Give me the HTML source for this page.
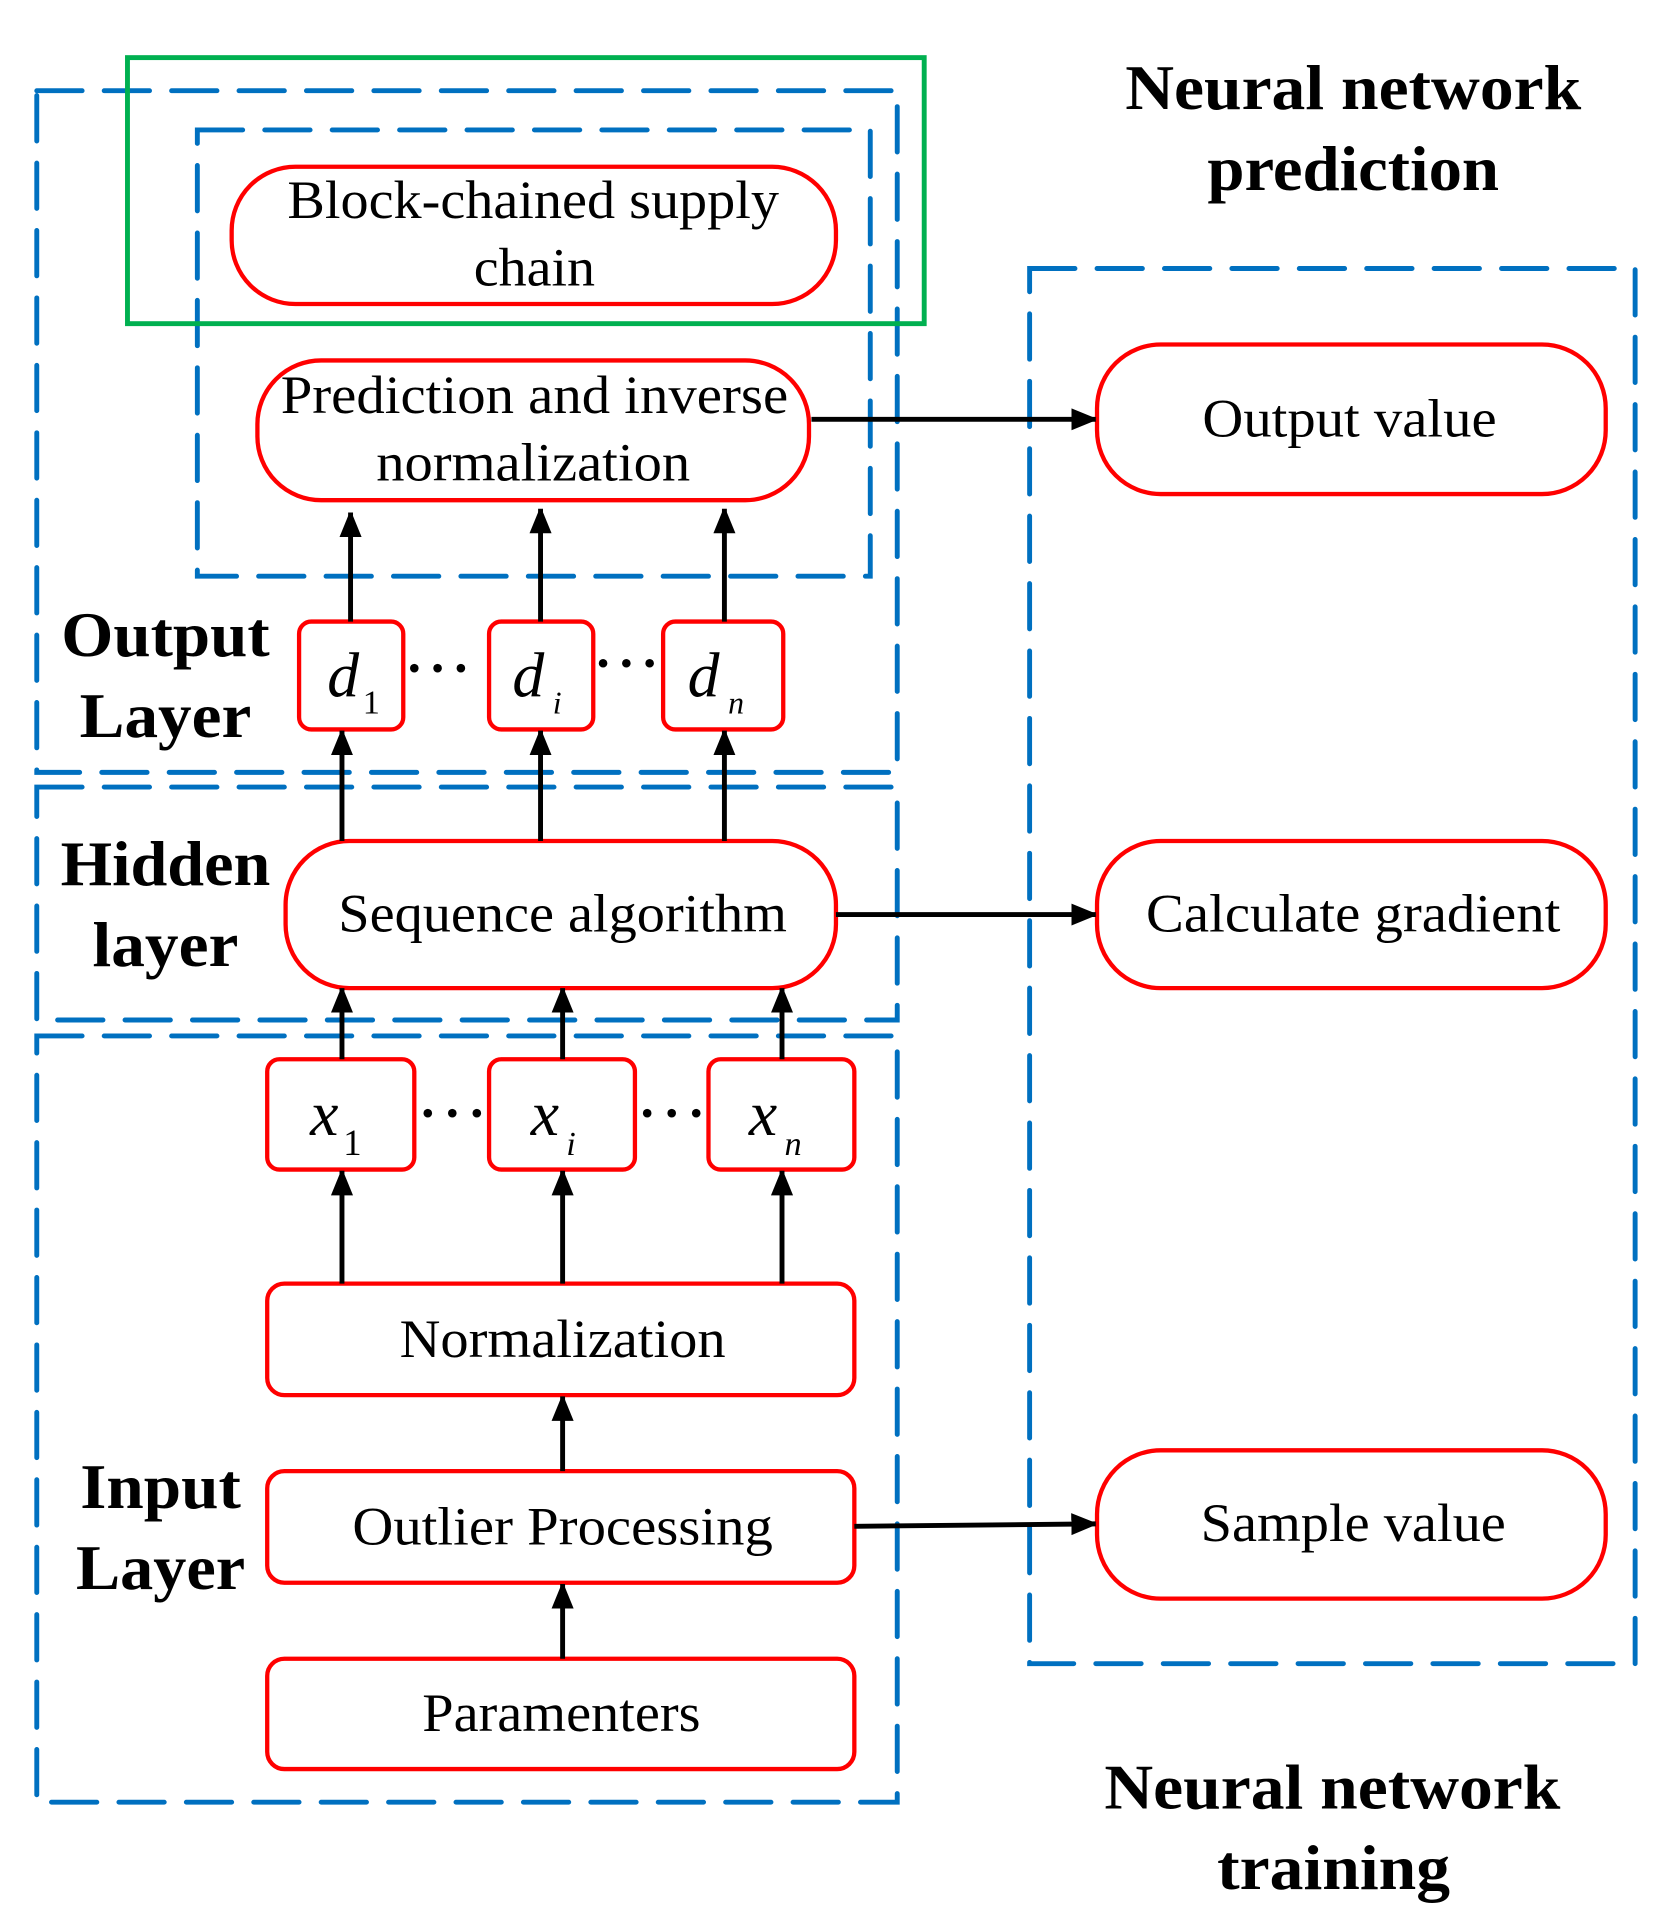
<!DOCTYPE html>
<html><head><style>html,body{margin:0;padding:0;background:#fff}svg{display:block}</style></head><body>
<svg width="1667" height="1926" viewBox="0 0 1360 1571" preserveAspectRatio="none" xmlns="http://www.w3.org/2000/svg">
<defs>
<marker id="b" markerWidth="18" markerHeight="22" refX="20" refY="9" orient="auto" markerUnits="userSpaceOnUse"><path d="M0,0 L22,9 L0,18 z" fill="#000"/></marker></defs>
<g fill="none" stroke="#0070C0" stroke-width="4" stroke-dasharray="37 18" stroke-linecap="round">
<rect x="30" y="74" width="702" height="556"/>
<rect x="30" y="642" width="702" height="190"/>
<rect x="30" y="845" width="702" height="625"/>
<rect x="161" y="106" width="549" height="364"/>
<rect x="840" y="219" width="494" height="1138"/>
</g>
<rect x="104" y="47" width="650" height="217" fill="none" stroke="#00B050" stroke-width="4"/>
<g fill="#fff" stroke="#f00" stroke-width="3.5">
<rect x="189" y="136" width="493" height="112" rx="52"/>
<rect x="210" y="294" width="450" height="114" rx="52"/>
<rect x="895" y="281" width="415" height="122" rx="52"/>
<rect x="244" y="507" width="85" height="88" rx="10"/>
<rect x="399" y="507" width="85" height="88" rx="10"/>
<rect x="541" y="507" width="98" height="88" rx="10"/>
<rect x="233" y="686" width="449" height="120" rx="52"/>
<rect x="895" y="686" width="415" height="120" rx="52"/>
<rect x="218" y="864" width="120" height="90" rx="10"/>
<rect x="399" y="864" width="119" height="90" rx="10"/>
<rect x="578" y="864" width="119" height="90" rx="10"/>
<rect x="218" y="1047" width="479" height="91" rx="14"/>
<rect x="218" y="1200" width="479" height="91" rx="14"/>
<rect x="218" y="1353" width="479" height="90" rx="14"/>
<rect x="895" y="1183" width="415" height="121" rx="52"/>
</g>
<g stroke="#000" stroke-width="4" marker-end="url(#b)">
<line x1="286" y1="507" x2="286" y2="418"/>
<line x1="441" y1="507" x2="441" y2="415"/>
<line x1="591" y1="507" x2="591" y2="415"/>
<line x1="279" y1="686" x2="279" y2="596"/>
<line x1="441" y1="686" x2="441" y2="596"/>
<line x1="591" y1="686" x2="591" y2="596"/>
<line x1="279" y1="864" x2="279" y2="806"/>
<line x1="459" y1="864" x2="459" y2="806"/>
<line x1="638" y1="864" x2="638" y2="806"/>
<line x1="279" y1="1047" x2="279" y2="955"/>
<line x1="459" y1="1047" x2="459" y2="955"/>
<line x1="638" y1="1047" x2="638" y2="955"/>
<line x1="459" y1="1200" x2="459" y2="1139"/>
<line x1="459" y1="1353" x2="459" y2="1292"/>
<line x1="662" y1="342" x2="894" y2="342"/>
<line x1="682" y1="746" x2="894" y2="746"/>
<line x1="697" y1="1245" x2="894" y2="1243"/>
</g>
<g font-family="Liberation Serif, serif" font-size="44" text-anchor="middle" fill="#000" lengthAdjust="spacingAndGlyphs">
<text x="435" y="178" textLength="401" lengthAdjust="spacingAndGlyphs">Block-chained supply</text>
<text x="436" y="233" textLength="99" lengthAdjust="spacingAndGlyphs">chain</text>
<text x="436" y="337" textLength="414" lengthAdjust="spacingAndGlyphs">Prediction and inverse</text>
<text x="435" y="392" textLength="256" lengthAdjust="spacingAndGlyphs">normalization</text>
<text x="1101" y="356" textLength="240" lengthAdjust="spacingAndGlyphs">Output value</text>
<text x="459" y="760" textLength="366" lengthAdjust="spacingAndGlyphs">Sequence algorithm</text>
<text x="1104" y="760" textLength="338" lengthAdjust="spacingAndGlyphs">Calculate gradient</text>
<text x="459" y="1107" textLength="266" lengthAdjust="spacingAndGlyphs">Normalization</text>
<text x="459" y="1260" textLength="343" lengthAdjust="spacingAndGlyphs">Outlier Processing</text>
<text x="458" y="1412" textLength="227" lengthAdjust="spacingAndGlyphs">Paramenters</text>
<text x="1104" y="1257" textLength="249" lengthAdjust="spacingAndGlyphs">Sample value</text>
</g>
<g font-family="Liberation Serif, serif" font-style="italic" fill="#000">
<text x="267" y="568" font-size="52">d</text><text x="296" y="582" font-size="28" font-style="normal">1</text>
<text x="418" y="568" font-size="52">d</text><text x="451" y="582" font-size="26">i</text>
<text x="561" y="568" font-size="52">d</text><text x="594" y="582" font-size="26">n</text>
<text x="253" y="926" font-size="52">x</text><text x="280" y="942" font-size="30" font-style="normal">1</text>
<text x="433" y="926" font-size="52">x</text><text x="462" y="942" font-size="28">i</text>
<text x="611" y="926" font-size="52">x</text><text x="640" y="942" font-size="28">n</text>
</g>
<g fill="#000">
<circle cx="338" cy="545" r="3.5"/><circle cx="357" cy="545" r="3.5"/><circle cx="376" cy="545" r="3.5"/>
<circle cx="492" cy="541" r="3.5"/><circle cx="511" cy="541" r="3.5"/><circle cx="530" cy="541" r="3.5"/>
<circle cx="349" cy="908" r="3.5"/><circle cx="369" cy="908" r="3.5"/><circle cx="389" cy="908" r="3.5"/>
<circle cx="528" cy="908" r="3.5"/><circle cx="548" cy="908" r="3.5"/><circle cx="568" cy="908" r="3.5"/>
</g>
<g font-family="Liberation Serif, serif" font-size="52" font-weight="bold" text-anchor="middle" fill="#000">
<text x="1104" y="89" textLength="372" lengthAdjust="spacingAndGlyphs">Neural network</text>
<text x="1104" y="155" textLength="238" lengthAdjust="spacingAndGlyphs">prediction</text>
<text x="1087" y="1475" textLength="372" lengthAdjust="spacingAndGlyphs">Neural network</text>
<text x="1088" y="1541" textLength="190" lengthAdjust="spacingAndGlyphs">training</text>
<text x="135" y="535" textLength="170" lengthAdjust="spacingAndGlyphs">Output</text>
<text x="135" y="601" textLength="140" lengthAdjust="spacingAndGlyphs">Layer</text>
<text x="135" y="722" textLength="171" lengthAdjust="spacingAndGlyphs">Hidden</text>
<text x="135" y="788" textLength="119" lengthAdjust="spacingAndGlyphs">layer</text>
<text x="131" y="1230" textLength="131" lengthAdjust="spacingAndGlyphs">Input</text>
<text x="131" y="1296" textLength="138" lengthAdjust="spacingAndGlyphs">Layer</text>
</g>
</svg>
</body></html>
